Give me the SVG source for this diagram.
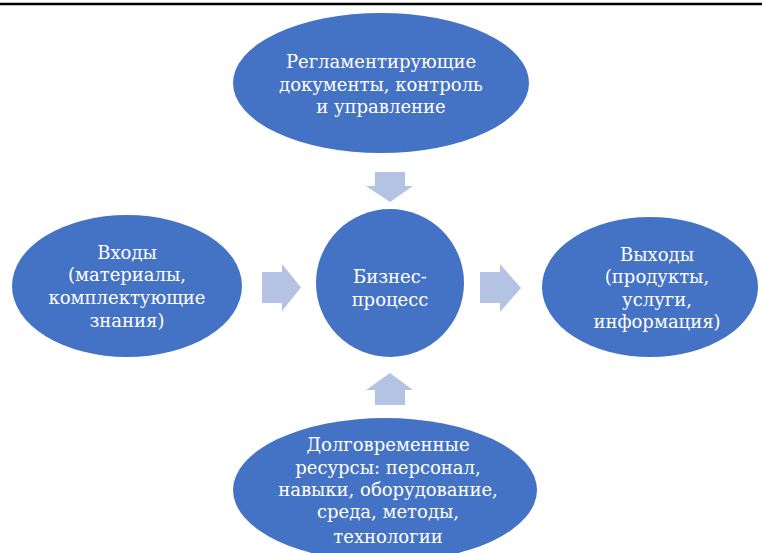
<svg xmlns="http://www.w3.org/2000/svg" width="762" height="553" viewBox="0 0 762 553">
<style>
.node{fill:#4472C4;}
.arr{fill:#B4C2E3;}
.t{font-family:'DejaVu Serif',serif;font-size:18px;fill:#FFFFFF;text-anchor:middle;}
</style>
<rect x="0" y="0" width="762" height="553" fill="#FFFFFF"/>
<line x1="0" y1="4" x2="762" y2="4" stroke="#000000" stroke-width="2.5"/>
<g id="connectors">
<polygon class="arr" points="375,172 405,172 405,186 413,186 390,202 366,186 375,186"/>
<polygon class="arr" points="262,272 282,272 282,264 301,287.5 282,311 282,303 262,303"/>
<polygon class="arr" points="480,272 500,272 500,264 521,288 500,312 500,303 480,303"/>
<polygon class="arr" points="375,405 405,405 405,390 413,390 390,373 366,390 375,390"/>
</g>
<g id="node-top">
<ellipse class="node" cx="381" cy="83" rx="148" ry="70"/>
<text class="t" x="381" y="68">Регламентирующие</text>
<text class="t" x="381" y="91">документы, контроль</text>
<text class="t" x="381" y="113">и управление</text>
</g>
<g id="node-left">
<ellipse class="node" cx="127" cy="286" rx="115" ry="71"/>
<text class="t" x="127" y="259">Входы</text>
<text class="t" x="127" y="281">(материалы,</text>
<text class="t" x="127" y="304">комплектующие</text>
<text class="t" x="127" y="327">знания)</text>
</g>
<g id="node-center">
<circle class="node" cx="390" cy="283" r="74"/>
<text class="t" x="390" y="283">Бизнес-</text>
<text class="t" x="390" y="306">процесс</text>
</g>
<g id="node-right">
<ellipse class="node" cx="650" cy="287" rx="108" ry="70"/>
<text class="t" x="657" y="261">Выходы</text>
<text class="t" x="657" y="283">(продукты,</text>
<text class="t" x="657" y="306">услуги,</text>
<text class="t" x="657" y="328">информация)</text>
</g>
<g id="node-bottom">
<ellipse class="node" cx="385" cy="490" rx="152" ry="72"/>
<text class="t" x="388" y="451">Долговременные</text>
<text class="t" x="388" y="474">ресурсы: персонал,</text>
<text class="t" x="388" y="496">навыки, оборудование,</text>
<text class="t" x="388" y="518">среда, методы,</text>
<text class="t" x="388" y="543">технологии</text>
</g>
</svg>
